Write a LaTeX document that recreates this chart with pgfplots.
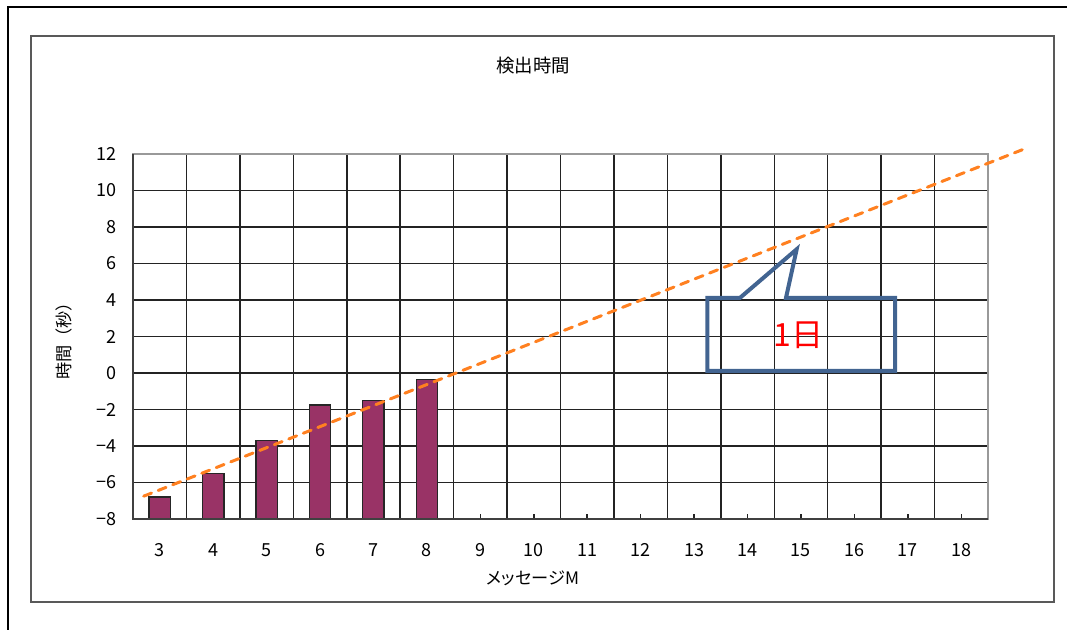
\documentclass[border=0pt]{standalone}
\usepackage{fontspec}
\setmainfont{Noto Sans CJK JP}
\newfontfamily\jpp[RawFeature=+palt]{Noto Sans CJK JP}
\usepackage{pgfplots}
\pgfplotsset{compat=1.18}

\definecolor{barplum}{RGB}{153,51,102}
\definecolor{trendor}{RGB}{255,128,32}
\definecolor{callblue}{RGB}{66,100,145}
\definecolor{gridk}{RGB}{35,35,35}

\begin{document}
\begin{tikzpicture}
\useasboundingbox (0,0) rectangle (533.5pt,315pt);
% outer frame
\draw[black, line width=1.1pt] (4pt,-10pt) -- (4pt,311.5pt) -- (545pt,311.5pt);
% chart area frame
\draw[black!65, line width=1pt] (15.5pt,14pt) rectangle (527pt,297pt);
% title
\node[font=\fontsize{9.2}{11}\selectfont\jpp] at (266.5pt,282pt) {検出時間};

\begin{axis}[
  at={(66.5pt,55.5pt)}, anchor=south west,
  scale only axis, width=427.5pt, height=182.5pt,
  xmin=2.5, xmax=18.5, ymin=-8, ymax=12,
  xtick={3,...,18}, ytick={-8,-6,...,12},
  yticklabels={−8,−6,−4,−2,0,2,4,6,8,10,12},
  minor xtick={3.5,4.5,...,17.5},
  xminorgrids, ymajorgrids,
  grid style={gridk, line width=0.75pt},
  minor grid style={gridk, line width=0.75pt},
  tick align=inside, tick pos=left,
  major tick length=2.5pt, minor tick length=0pt,
  ytick style={draw=none},
  xtick style={gridk, line width=0.75pt},
  axis line style={draw=black!40, line width=0.9pt},
  clip=false,
  tick label style={font=\fontsize{9}{10}\selectfont},
  /pgf/number format/assume math mode=true,
  yticklabel style={inner sep=0pt, xshift=-8pt, anchor=east},
  xticklabel style={inner sep=0pt, yshift=-12pt, anchor=north},
]
% measured detection times (bars rise from the -8 baseline)
\addplot[fill=barplum, draw=black!85, line width=0.7pt] coordinates {(2.8,-8) (2.8,-6.8) (3.2,-6.8) (3.2,-8)} -- cycle;
\addplot[fill=barplum, draw=black!85, line width=0.7pt] coordinates {(3.8,-8) (3.8,-5.5) (4.2,-5.5) (4.2,-8)} -- cycle;
\addplot[fill=barplum, draw=black!85, line width=0.7pt] coordinates {(4.8,-8) (4.8,-3.7) (5.2,-3.7) (5.2,-8)} -- cycle;
\addplot[fill=barplum, draw=black!85, line width=0.7pt] coordinates {(5.8,-8) (5.8,-1.75) (6.2,-1.75) (6.2,-8)} -- cycle;
\addplot[fill=barplum, draw=black!85, line width=0.7pt] coordinates {(6.8,-8) (6.8,-1.5) (7.2,-1.5) (7.2,-8)} -- cycle;
\addplot[fill=barplum, draw=black!85, line width=0.7pt] coordinates {(7.8,-8) (7.8,-0.35) (8.2,-0.35) (8.2,-8)} -- cycle;

% linear trend, extended forward
\addplot[trendor, line width=1.5pt, dash pattern=on 4.2pt off 3.6pt, line cap=round] coordinates {(2.7,-6.75) (19.2,12.3)};

% darker left and bottom axis lines
\draw[black!75, line width=0.9pt] (rel axis cs:0,1) -- (rel axis cs:0,0) -- (rel axis cs:1,0);

% callout
\draw[callblue, line width=2pt, line join=miter]
  (axis cs:13.25,0.12) -- (axis cs:13.25,4.12) -- (axis cs:13.86,4.12)
  -- (axis cs:14.92,6.78) -- (axis cs:14.72,4.12) -- (axis cs:16.76,4.12)
  -- (axis cs:16.76,0.12) -- cycle;
\node[red, font=\fontsize{16}{18}\selectfont] at (axis cs:14.95,2.05) {1日};
\end{axis}

% axis titles
\node[font=\fontsize{8.6}{11}\selectfont\jpp] at (266.5pt,26pt) {メッセージM};
\node[rotate=90, font=\fontsize{8.6}{11}\selectfont] at (32pt,146.5pt) {時間（秒）};
\end{tikzpicture}
\end{document}
